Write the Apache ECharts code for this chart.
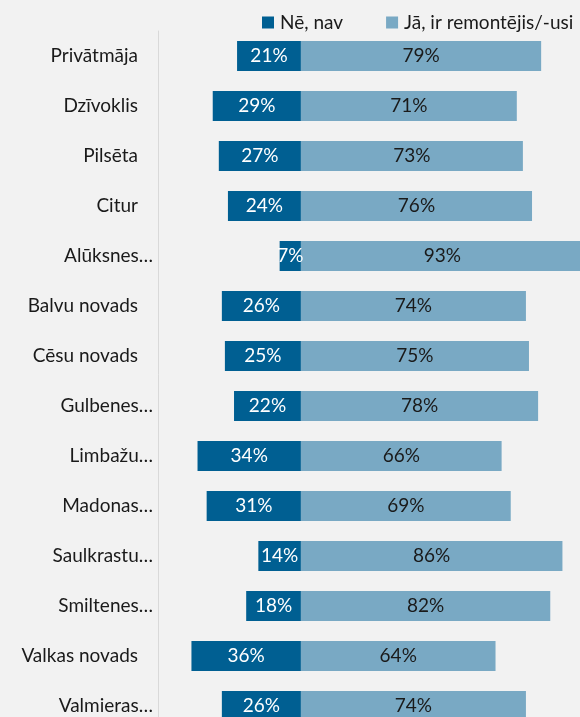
<!DOCTYPE html>
<html>
<head>
<meta charset="utf-8">
<script src="https://cdn.jsdelivr.net/npm/echarts@6/dist/echarts.min.js"></script>
<style>
  html, body { margin: 0; padding: 0; background: #f2f2f2; }
  #main { width: 580px; height: 717px; }
</style>
</head>
<body>
<div id="main"></div>
<script>
const categories = [
  'Privātmāja', 'Dzīvoklis', 'Pilsēta', 'Citur', 'Alūksnes…', 'Balvu novads',
  'Cēsu novads', 'Gulbenes…', 'Limbažu…', 'Madonas…', 'Saulkrastu…',
  'Smiltenes…', 'Valkas novads', 'Valmieras…'
];
const nav = [21, 29, 27, 24, 7, 26, 25, 22, 34, 31, 14, 18, 36, 26];
const ir = [79, 71, 73, 76, 93, 74, 75, 78, 66, 69, 86, 82, 64, 74];
const seriesNames = ['Nē, nav', 'Jā, ir remontējis/-usi'];

const chart = echarts.init(document.getElementById('main'));
const font = 'Lato';

const option = {
  backgroundColor: '#f2f2f2',
  animation: false,
  legend: {
    left: 257,
    top: 8,
    itemWidth: 12,
    itemHeight: 12,
    itemGap: 43,
    icon: 'rect',
    textStyle: { fontFamily: font, fontSize: 19, color: '#1a1a1a', padding: [0, 0, 0, 1] },
    data: seriesNames
  },
  grid: {
    left: 158, top: 31, width: 447, height: 700,
    containLabel: false,
    outerBoundsMode: 'none'
  },
  xAxis: {
    type: 'value',
    min: -47,
    max: 100,
    show: false
  },
  yAxis: {
    type: 'category',
    inverse: true,
    data: categories,
    axisLine: { show: true, onZero: false, lineStyle: { color: '#d9d9d9', width: 1 } },
    axisTick: { show: false },
    axisLabel: {
      margin: 5,
      fontFamily: font,
      fontSize: 19,
      color: '#1a1a1a',
      formatter: (v) => v.endsWith('…') ? '{a|' + v + '}' : '{b|' + v + '}',
      rich: {
        a: { fontFamily: font, fontSize: 19, color: '#1a1a1a' },
        b: { fontFamily: font, fontSize: 19, color: '#1a1a1a', padding: [0, 15, 0, 0] }
      }
    }
  },
  series: [
    {
      name: seriesNames[0],
      type: 'bar',
      stack: 'total',
      barWidth: 30,
      itemStyle: { color: '#005f92' },
      label: {
        show: true,
        position: 'inside',
        fontFamily: font,
        fontSize: 19,
        color: '#ffffff',
        formatter: (p) => Math.abs(p.value) + '%'
      },
      data: nav.map((v) => -v)
    },
    {
      name: seriesNames[1],
      type: 'bar',
      stack: 'total',
      barWidth: 30,
      itemStyle: { color: '#79a9c4' },
      label: {
        show: true,
        position: 'inside',
        fontFamily: font,
        fontSize: 19,
        color: '#1a1a1a',
        formatter: (p) => p.value + '%'
      },
      data: ir
    }
  ]
};

chart.setOption(option);
</script>
</body>
</html>
